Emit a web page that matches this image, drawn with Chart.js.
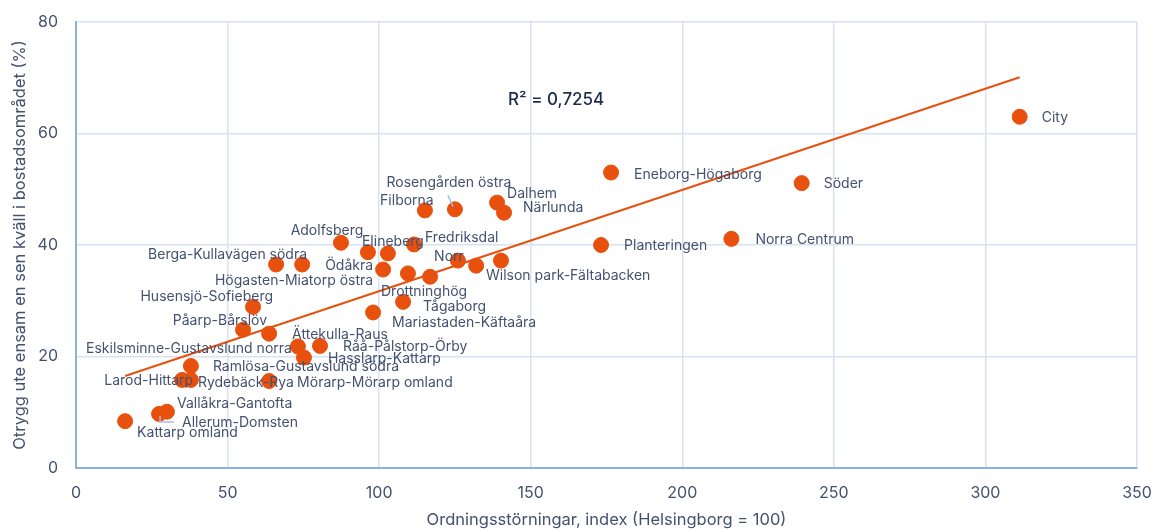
<!DOCTYPE html>
<html>
<head>
<meta charset="utf-8">
<script src="https://cdn.jsdelivr.net/npm/chart.js@4.4.1/dist/chart.umd.min.js"></script>
<style>
  html, body { margin: 0; padding: 0; background: #fff; }
  #wrap { width: 1156px; height: 532px; }
</style>
</head>
<body>
<div id="wrap"><canvas id="otryggChart"></canvas></div>
<script>
// omraden (tomma namn = punkter utan etikett)
const omraden = [
    'City', 'Söder', 'Eneborg-Högaborg', 'Norra Centrum', 'Planteringen',
    'Rosengården östra', 'Filborna', 'Dalhem', 'Närlunda', 'Adolfsberg',
    'Elineberg', '', 'Fredriksdal', 'Norr', '', 'Wilson park-Fältabacken',
    '', 'Drottninghög', 'Ödåkra', 'Tågaborg', 'Mariastaden-Käftaåra',
    'Berga-Kullavägen södra', 'Högasten-Miatorp östra', 'Husensjö-Sofieberg',
    'Påarp-Bårslöv', 'Ättekulla-Raus', 'Eskilsminne-Gustavslund norra',
    'Råå-Pålstorp-Örby', 'Hasslarp-Kattarp', 'Ramlösa-Gustavslund södra',
    'Larod-Hittarp', 'Rydebäck-Rya', 'Mörarp-Mörarp omland',
    'Vallåkra-Gantofta', 'Allerum-Domsten', 'Kattarp omland'
];

// Ordningsstörningar, index (Helsingborg = 100)
const ordningsIndex = [
    311.3, 239.4, 176.5, 216.2, 173.2,
    125.0, 115.1, 138.9, 141.2, 87.4,
    102.9, 96.3, 111.5, 126.0, 132.0, 140.2,
    109.5, 116.8, 101.3, 107.9, 98.0,
    66.0, 74.6, 58.4,
    55.1, 63.7, 73.2,
    80.5, 75.2, 37.9,
    35.0, 37.9, 63.7,
    30.0, 27.4, 16.2
];

// Otrygg ute ensam en sen kväll (%)
const otryggAndel = [
    63.0, 51.1, 53.0, 41.1, 40.0,
    46.4, 46.2, 47.6, 45.8, 40.4,
    38.5, 38.7, 40.1, 37.2, 36.3, 37.2,
    34.9, 34.3, 35.6, 29.8, 27.9,
    36.5, 36.5, 28.9,
    24.8, 24.1, 21.8,
    21.9, 19.8, 18.3,
    15.8, 15.8, 15.6,
    10.1, 9.7, 8.4
];

// linjär trendlinje
const trendX = [16.2, 311.3];
const trendY = [16.5, 70.1];
const r2Text = 'R² = 0,7254';

// var etiketterna hamnar i förhållande till punkten: [dx, dy, justering]
const etikettLage = {
    'City': [22, 1, 'left'],
    'Söder': [22, 1, 'left'],
    'Eneborg-Högaborg': [23, 2, 'left'],
    'Norra Centrum': [24, 1, 'left'],
    'Planteringen': [23, 1, 'left'],
    'Rosengården östra': [-6, -27, 'center'],
    'Filborna': [-18, -10, 'center'],
    'Dalhem': [10, -9, 'left'],
    'Närlunda': [19, -5, 'left'],
    'Adolfsberg': [-14, -12, 'center'],
    'Elineberg': [5, -12, 'center'],
    'Fredriksdal': [11, -7, 'left'],
    'Norr': [-9, -4, 'center'],
    'Wilson park-Fältabacken': [-15, 15, 'left'],
    'Drottninghög': [-6, 15, 'center'],
    'Ödåkra': [-10, -4, 'right'],
    'Tågaborg': [20, 5, 'left'],
    'Mariastaden-Käftaåra': [19, 10, 'left'],
    'Berga-Kullavägen södra': [31, -10, 'right'],
    'Högasten-Miatorp östra': [71, 16, 'right'],
    'Husensjö-Sofieberg': [20, -10, 'right'],
    'Påarp-Bårslöv': [24, -9, 'right'],
    'Ättekulla-Raus': [23, 1, 'left'],
    'Eskilsminne-Gustavslund norra': [-6, 2, 'right'],
    'Råå-Pålstorp-Örby': [23, 1, 'left'],
    'Hasslarp-Kattarp': [24, 1, 'left'],
    'Ramlösa-Gustavslund södra': [22, 1, 'left'],
    'Larod-Hittarp': [11, 1, 'right'],
    'Rydebäck-Rya': [7, 3, 'left'],
    'Mörarp-Mörarp omland': [28, 2, 'left'],
    'Vallåkra-Gantofta': [10, -8, 'left'],
    'Allerum-Domsten': [23, 9, 'left'],
    'Kattarp omland': [12, 12, 'left']
};

// hänvisningslinjer [x1, y1, x2, y2, ...] relativt punkten
const hanvisning = {
    'Rosengården östra': [-7, -14, -2, -3],
    'Allerum-Domsten': [1, 2, 1, 8, 15, 8]
};

const orange = '#e8500e';
const textFarg = '#44516f';
const fontFamily = 'Inter, "Open Sans", sans-serif';

const punktEtiketter = {
    id: 'punktEtiketter',
    afterDatasetsDraw(chart) {
        const ctx = chart.ctx;
        const meta = chart.getDatasetMeta(0);
        ctx.save();
        ctx.font = '14px ' + fontFamily;
        ctx.fillStyle = textFarg;
        ctx.textBaseline = 'middle';
        meta.data.forEach((pt, i) => {
            const namn = omraden[i];
            if (!namn) return;
            const lage = etikettLage[namn] || [12, 0, 'left'];
            const linje = hanvisning[namn];
            if (linje) {
                ctx.strokeStyle = '#a8bfe6';
                ctx.lineWidth = 1.5;
                ctx.beginPath();
                ctx.moveTo(pt.x + linje[0], pt.y + linje[1]);
                for (let k = 2; k < linje.length; k += 2) {
                    ctx.lineTo(pt.x + linje[k], pt.y + linje[k + 1]);
                }
                ctx.stroke();
            }
            ctx.textAlign = lage[2];
            ctx.fillText(namn, pt.x + lage[0], pt.y + lage[1]);
        });
        // R²
        const xs = chart.scales.x, ys = chart.scales.y;
        ctx.font = '500 17px ' + fontFamily;
        ctx.fillStyle = '#1f2b4d';
        ctx.textAlign = 'left';
        ctx.fillText(r2Text, xs.getPixelForValue(142.5), ys.getPixelForValue(66));
        ctx.restore();
    }
};

const ctx = document.getElementById('otryggChart').getContext('2d');

const chartData = {
    datasets: [{
        label: 'Områden',
        data: ordningsIndex.map((x, i) => ({ x: x, y: otryggAndel[i] })),
        backgroundColor: orange,
        borderColor: orange,
        pointRadius: 7.5,
        pointHoverRadius: 7.5,
        order: 1
    }, {
        type: 'line',
        label: 'Trend',
        data: trendX.map((x, i) => ({ x: x, y: trendY[i] })),
        borderColor: orange,
        borderWidth: 2,
        pointRadius: 0,
        fill: false,
        order: 2
    }]
};

const config = {
    type: 'scatter',
    data: chartData,
    plugins: [punktEtiketter],
    options: {
        responsive: false,
        animation: false,
        maintainAspectRatio: false,
        layout: { padding: { top: 22, right: 19, left: 0, bottom: 0 } },
        plugins: {
            legend: { display: false },
            tooltip: { enabled: false }
        },
        scales: {
            x: {
                type: 'linear',
                min: 0,
                max: 350,
                ticks: {
                    stepSize: 50,
                    padding: 0,
                    color: textFarg,
                    font: { family: fontFamily, size: 16 }
                },
                grid: { color: '#d7e2f3', lineWidth: 1.5, drawTicks: true, tickLength: 16, tickColor: 'rgba(0,0,0,0)' },
                border: { color: '#8fb0e2', width: 2 },
                title: {
                    display: true,
                    text: 'Ordningsstörningar, index (Helsingborg = 100)',
                    color: textFarg,
                    font: { family: fontFamily, size: 16.5 },
                    padding: { top: 0, bottom: 2 }
                },
                afterFit(scale) { scale.height = 64; }
            },
            y: {
                min: 0,
                max: 80,
                ticks: {
                    stepSize: 20,
                    padding: 0,
                    color: textFarg,
                    font: { family: fontFamily, size: 16 }
                },
                grid: { color: '#d7e2f3', lineWidth: 1.5, drawTicks: true, tickLength: 18, tickColor: 'rgba(0,0,0,0)' },
                border: { color: '#8fb0e2', width: 2 },
                title: {
                    display: true,
                    text: 'Otrygg ute ensam en sen kväll i bostadsområdet (%)',
                    color: textFarg,
                    font: { family: fontFamily, size: 16.5 },
                    padding: { top: 10, bottom: 0 }
                },
                afterFit(scale) { scale.width = 76; }
            }
        }
    }
};

const canvas = document.getElementById('otryggChart');
canvas.width = 1156;
canvas.height = 532;
const otryggChart = new Chart(ctx, config);
</script>
</body>
</html>
